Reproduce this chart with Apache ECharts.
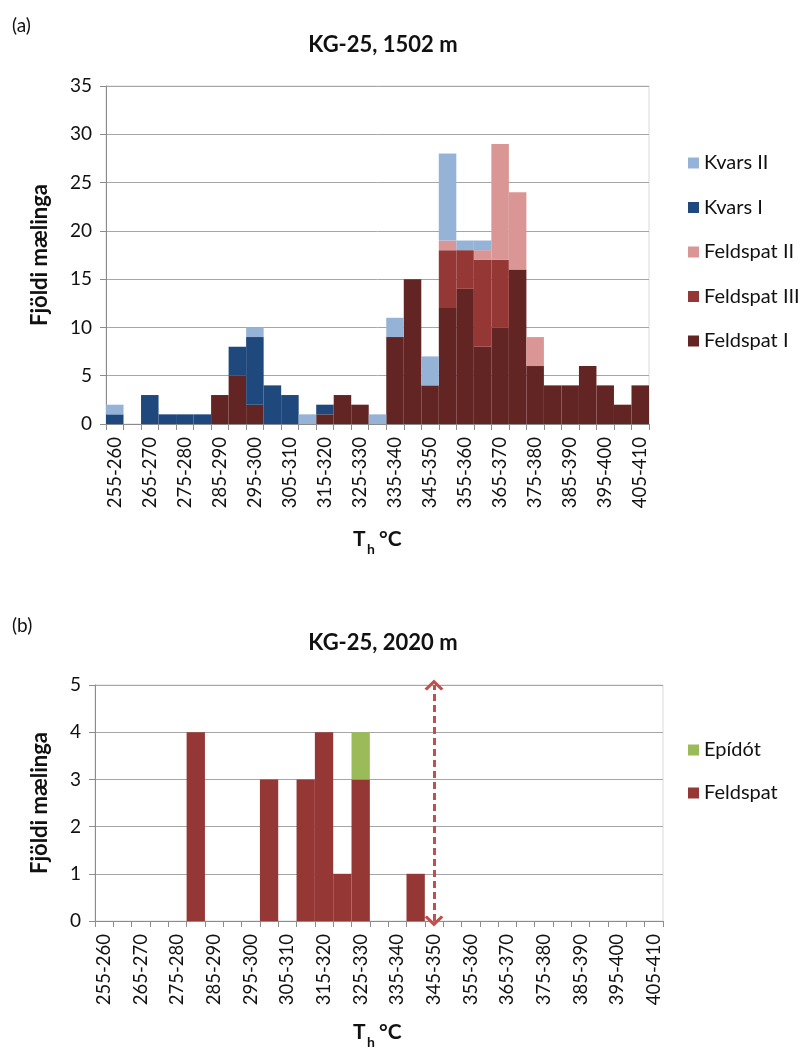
<!DOCTYPE html>
<html>
<head>
<meta charset="utf-8">
<script src="https://cdn.jsdelivr.net/npm/echarts@6/dist/echarts.min.js"></script>
<style>
  html, body { margin: 0; padding: 0; background: #fff; }
  #chart { width: 806px; height: 1052px; }
</style>
</head>
<body>
<div id="chart"></div>
<script>
// ---- Data ----
const categories = ['255-260','260-265','265-270','270-275','275-280','280-285','285-290','290-295','295-300','300-305',
  '305-310','310-315','315-320','320-325','325-330','330-335','335-340','340-345','345-350','350-355',
  '355-360','360-365','365-370','370-375','375-380','380-385','385-390','390-395','395-400','400-405','405-410'];

// Panel (a) KG-25, 1502 m
const kvarsII     = [1,0,0,0,0,0,0,0,1,0,0,1,0,0,0,1,2,0,3,9,1,1,0,0,0,0,0,0,0,0,0];
const kvarsI      = [1,0,3,1,1,1,0,3,7,4,3,0,1,0,0,0,0,0,0,0,0,0,0,0,0,0,0,0,0,0,0];
const feldspatII  = [0,0,0,0,0,0,0,0,0,0,0,0,0,0,0,0,0,0,0,1,0,1,12,8,3,0,0,0,0,0,0];
const feldspatIII = [0,0,0,0,0,0,0,0,0,0,0,0,0,0,0,0,0,0,0,6,4,9,7,0,0,0,0,0,0,0,0];
const feldspatI   = [0,0,0,0,0,0,3,5,2,0,0,0,1,3,2,0,9,15,4,12,14,8,10,16,6,4,4,6,4,2,4];

// Panel (b) KG-25, 2020 m
const epidot   = [0,0,0,0,0,0,0,0,0,0,0,0,0,0,1,0,0,0,0,0,0,0,0,0,0,0,0,0,0,0,0];
const feldspat = [0,0,0,0,0,4,0,0,0,3,0,3,4,1,3,0,0,1,0,0,0,0,0,0,0,0,0,0,0,0,0];
const arrowCategory = '345-350';
const arrowRange = [0, 5];

const FONT = 'Lato, "Open Sans", "Noto Sans", sans-serif';
const GRID_COLOR = '#A6A6A6';
const AXIS_COLOR = '#8C8C8C';
const TEXT = '#111';

function xAxisCfg(gridIndex) {
  return {
    type: 'category', gridIndex, data: categories,
    boundaryGap: true,
    axisLine: { lineStyle: { color: AXIS_COLOR, width: 1 } },
    axisTick: { show: true, interval: 0, length: 6, lineStyle: { color: AXIS_COLOR } },
    axisLabel: { interval: 1, rotate: 90, margin: 13, fontFamily: FONT, fontSize: 18.5, color: TEXT },
    splitLine: { show: false }
  };
}
function yAxisCfg(gridIndex, max, step, nameGap) {
  return {
    type: 'value', gridIndex, min: 0, max, interval: step,
    name: 'Fjöldi mælinga', nameLocation: 'middle', nameGap,
    nameTextStyle: { fontFamily: FONT, fontSize: 22, fontWeight: 'bold', color: TEXT },
    axisLine: { show: true, lineStyle: { color: AXIS_COLOR, width: 1 } },
    axisTick: { show: true, length: 6, lineStyle: { color: AXIS_COLOR } },
    axisLabel: { margin: 14, fontFamily: FONT, fontSize: 19, color: TEXT },
    splitLine: { show: true, lineStyle: { color: GRID_COLOR, width: 1 } }
  };
}
function bar(name, data, color, xi, stack) {
  return {
    name, type: 'bar', stack, data, xAxisIndex: xi, yAxisIndex: xi,
    barCategoryGap: '0%', barGap: '0%',
    itemStyle: { color },
    emphasis: { disabled: true },
    animation: false
  };
}

const chevron = 'path://M0,9 L9,0 L18,9 L15.6,10.6 L9,4.2 L2.4,10.6 Z';

const series = [
  bar('Feldspat I',   feldspatI,   '#632523', 0, 'a'),
  bar('Feldspat III', feldspatIII, '#953735', 0, 'a'),
  bar('Feldspat II',  feldspatII,  '#DA9694', 0, 'a'),
  bar('Kvars I',      kvarsI,      '#1F497D', 0, 'a'),
  bar('Kvars II',     kvarsII,     '#95B3D7', 0, 'a'),
  bar('Feldspat',     feldspat,    '#953735', 1, 'b'),
  bar('Epídót',       epidot,      '#9BBB59', 1, 'b')
];
series[5].markLine = {
  silent: true,
  symbol: [chevron, chevron],
  symbolSize: [19, 11],
  label: { show: false },
  lineStyle: { color: '#C0504D', width: 3, type: [7, 4] },
  data: [[ { coord: [arrowCategory, arrowRange[0]] }, { coord: [arrowCategory, arrowRange[1]] } ]]
};

function thLabel(cx, cy) {
  return [
    { type: 'text', left: cx - 25, top: cy - 12, style: { text: 'T', font: 'bold 21px ' + FONT, fill: TEXT } },
    { type: 'text', left: cx - 11, top: cy + 1, style: { text: 'h', font: 'bold 14px ' + FONT, fill: TEXT } },
    { type: 'text', left: cx + 1, top: cy - 12, style: { text: '°C', font: 'bold 21px ' + FONT, fill: TEXT } }
  ];
}

const legendText = { fontFamily: FONT, fontSize: 20, lineHeight: 20, color: TEXT };

const option = {
  backgroundColor: '#fff',
  animation: false,
  textStyle: { fontFamily: FONT },
  title: [
    { text: 'KG-25, 1502 m', left: 378, top: 29, textAlign: 'center',
      textStyle: { fontFamily: FONT, fontSize: 22, fontWeight: 'bold', color: TEXT } },
    { text: 'KG-25, 2020 m', left: 378, top: 627, textAlign: 'center',
      textStyle: { fontFamily: FONT, fontSize: 22, fontWeight: 'bold', color: TEXT } },
    { text: '(a)', left: 7, top: 11, textStyle: { fontFamily: FONT, fontSize: 19, fontWeight: 'normal', color: TEXT } },
    { text: '(b)', left: 7, top: 611, textStyle: { fontFamily: FONT, fontSize: 19, fontWeight: 'normal', color: TEXT } }
  ],
  legend: [
    { orient: 'vertical', left: 683, top: 148, itemWidth: 11, itemHeight: 11, itemGap: 24.5,
      icon: 'rect', selectedMode: false,
      data: ['Kvars II', 'Kvars I', 'Feldspat II', 'Feldspat III', 'Feldspat I'],
      textStyle: legendText },
    { orient: 'vertical', left: 683, top: 735, itemWidth: 11, itemHeight: 11, itemGap: 23,
      icon: 'rect', selectedMode: false,
      data: ['Epídót', 'Feldspat'],
      textStyle: legendText }
  ],
  grid: [
    { left: 106, top: 86, width: 543, height: 338, show: true, borderColor: '#D9D9D9', borderWidth: 1, backgroundColor: 'transparent' },
    { left: 95, top: 685, width: 568, height: 236, show: true, borderColor: '#D9D9D9', borderWidth: 1, backgroundColor: 'transparent' }
  ],
  xAxis: [xAxisCfg(0), xAxisCfg(1)],
  yAxis: [yAxisCfg(0, 35, 5, 55), yAxisCfg(1, 5, 1, 44)],
  series,
  graphic: [].concat(thLabel(378, 541), thLabel(378, 1034))
};

const chart = echarts.init(document.getElementById('chart'), null, { renderer: 'canvas' });
chart.setOption(option);
</script>
</body>
</html>
